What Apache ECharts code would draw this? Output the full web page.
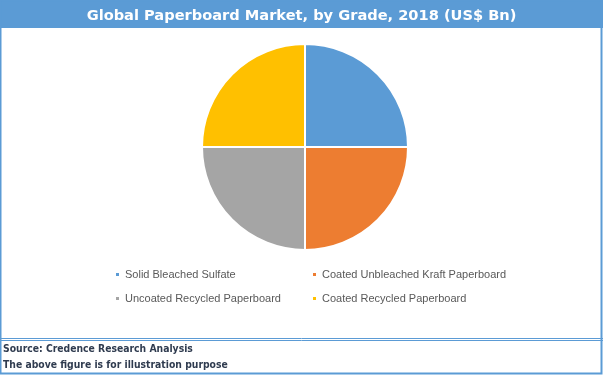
<!DOCTYPE html>
<html><head><meta charset="utf-8">
<script src="https://cdn.jsdelivr.net/npm/echarts@6/dist/echarts.min.js"></script>
<style>html,body{margin:0;padding:0;background:#fff}#c{width:603px;height:375px}</style>
</head><body><div id="c"></div>
<script>
const categories = ['Solid Bleached Sulfate','Coated Unbleached Kraft Paperboard','Uncoated Recycled Paperboard','Coated Recycled Paperboard'];
const values = [25, 25, 25, 25];
const colors = ['#5b9bd5','#ed7d31','#a5a5a5','#ffc000'];
const titleText = 'Global Paperboard Market, by Grade, 2018 (US$ Bn)';
const footerLines = ['Source: Credence Research Analysis','The above figure is for illustration purpose'];

const chart = echarts.init(document.getElementById('c'), null, {renderer:'canvas'});
const legendText = {fontFamily:'Liberation Sans', fontSize:11, color:'#595959'};
chart.setOption({
  animation:false,
  color: colors,
  title:{text:titleText, left:'center', top:4,
    textStyle:{color:'#fff', fontFamily:'DejaVu Sans', fontWeight:'bold', fontSize:14.6}},
  legend:[
    {orient:'vertical', left:109, top:264, itemWidth:5, itemHeight:5, icon:'rect', itemGap:13,
     textStyle:legendText, data:[categories[0], categories[2]]},
    {orient:'vertical', left:306, top:264, itemWidth:5, itemHeight:5, icon:'rect', itemGap:13,
     textStyle:legendText, data:[categories[1], categories[3]]}
  ],
  graphic:[
    {type:'rect', z:-1, shape:{x:0,y:0,width:603,height:28}, style:{fill:'#5b9bd5'}},
    {type:'rect', shape:{x:0.5,y:0.5,width:601,height:373}, style:{fill:null, stroke:'#5b9bd5', lineWidth:2}},
    {type:'line', shape:{x1:0,y1:338.5,x2:603,y2:338.5}, style:{stroke:'#5b9bd5', lineWidth:1}},
    {type:'line', shape:{x1:0,y1:340.5,x2:603,y2:340.5}, style:{stroke:'#5b9bd5', lineWidth:1}},
    {type:'text', left:3, top:344, style:{text:footerLines[0], fill:'#2f3b4f', font:'bold 10.3px "DejaVu Sans Condensed"'}},
    {type:'text', left:3, top:360, style:{text:footerLines[1], fill:'#2f3b4f', font:'bold 10.3px "DejaVu Sans Condensed"'}}
  ],
  series:[{
    type:'pie', center:[305,147], radius:103, startAngle:90, clockwise:true,
    label:{show:false}, labelLine:{show:false},
    itemStyle:{borderColor:'#fff', borderWidth:2},
    emphasis:{disabled:true},
    data: categories.map((n,i)=>({name:n, value:values[i]}))
  }]
});
</script></body></html>
